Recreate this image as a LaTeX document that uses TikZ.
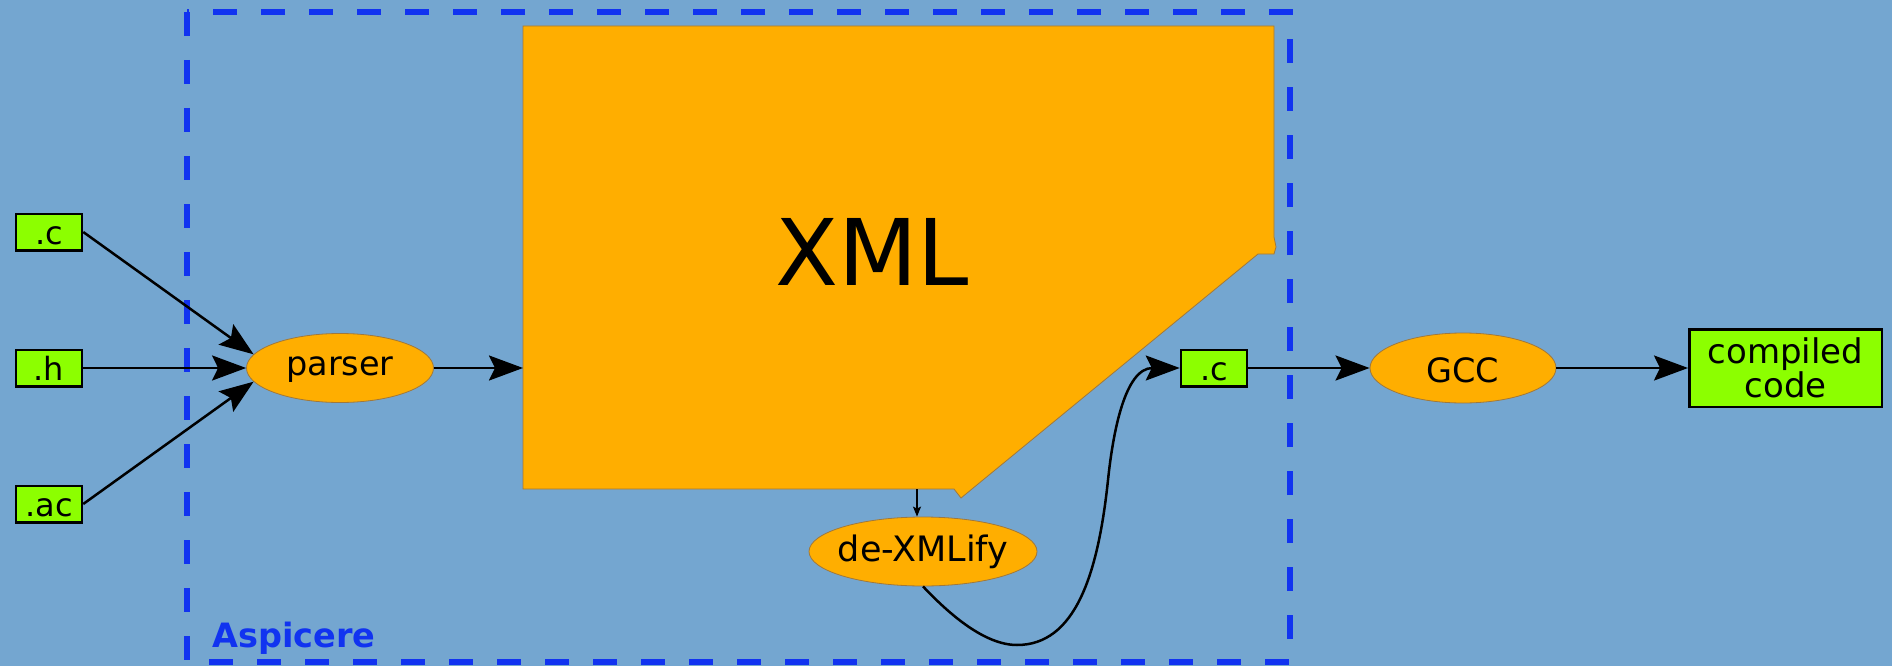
\documentclass[tikz,border=0pt]{standalone}
\usepackage{fontspec}
\setmainfont{DejaVu Sans}
\usetikzlibrary{shapes.geometric,arrows.meta}
\definecolor{bgblue}{RGB}{116,166,208}
\definecolor{xorange}{RGB}{255,174,0}
\definecolor{xgreen}{RGB}{140,255,0}
\definecolor{dashblue}{RGB}{17,51,240}
\definecolor{edgebrown}{RGB}{160,120,60}
\begin{document}
\begin{tikzpicture}[x=1pt,y=-1pt,
  filebox/.style={draw=black, line width=2.5pt, fill=xgreen, inner sep=0pt,
    minimum width=66pt, minimum height=36.5pt, text height=24pt, text depth=0pt,
    font=\fontsize{32}{32}\selectfont},
  proc/.style={ellipse, draw=edgebrown, line width=0.8pt, fill=xorange, inner sep=0pt,
    font=\fontsize{33.5}{33.5}\selectfont},
  conn/.style={line width=2.5pt, -{Stealth[length=34pt,width=25pt,inset=6pt]}},
  thinconn/.style={line width=1.5pt, -{Stealth[length=10pt,width=8pt,inset=2pt]}},
  group/.style={draw=dashblue, line width=6pt, dash pattern=on 24pt off 24pt},
]
\useasboundingbox (0,0) rectangle (1892,666);
\fill[bgblue] (0,0) rectangle (1892,666);

% Aspicere group
\draw[group] (187,12) rectangle (1290,662);
\node[anchor=base west, text=dashblue, font=\fontsize{33.5}{33.5}\selectfont\bfseries] (asp) at (209,647) {Aspicere};

% XML shape
\draw[draw=edgebrown, line width=0.8pt, fill=xorange]
  (523,26) -- (1274,26) -- (1274,237) -- (1276,247) -- (1274,254) -- (1258,254)
  -- (961,498) -- (954,489) -- (523,489) -- cycle;
\node[anchor=base, font=\fontsize{92}{92}\selectfont] (xmltext) at (872,285) {XML};
\coordinate (xmlin) at (523,368);
\coordinate (xmlout) at (917,489);

% input files
\node[filebox] (ic) at (49,232) {.c};
\node[filebox] (ih) at (49,368) {.h};
\node[filebox] (iac) at (49,504) {.ac};

% processes
\node[proc, minimum width=187pt, minimum height=69pt, text height=24pt, text depth=10pt] (parser) at (340,368) {parser};
\node[proc, minimum width=228pt, minimum height=69pt, text height=28pt, text depth=8pt,
  inner xsep=-14pt, font=\fontsize{35}{35}\selectfont] (dex) at (923,551.5) {de-XMLify};
\node[filebox] (cout) at (1214,368) {.c};
\node[proc, minimum width=186pt, minimum height=70pt, text height=31pt, text depth=3pt] (gcc) at (1463,368) {GCC};
\node[draw=black, line width=2.5pt, fill=xgreen, inner sep=0pt, minimum width=192.5pt,
  minimum height=77.5pt, align=center, font=\fontsize{34}{31}\selectfont] (comp) at (1785.5,368) {compiled\\code};

% connectors
\draw[conn] (ic.east) -- (parser.171);
\draw[conn] (ih.east) -- (parser.west);
\draw[conn] (iac.east) -- (parser.189);
\draw[conn] (parser.east) -- (xmlin);
\draw[thinconn] (xmlout) -- (xmlout |- dex.north);
\draw[conn] (dex.south) .. controls (950,615) and (985,645) .. (1017,645)
  .. controls (1075,645) and (1098,575) .. (1108,480)
  .. controls (1113,432) and (1125,368) .. (cout.west);
\draw[conn] (cout.east) -- (gcc.west);
\draw[conn] (gcc.east) -- (comp.west);
\end{tikzpicture}
\end{document}
